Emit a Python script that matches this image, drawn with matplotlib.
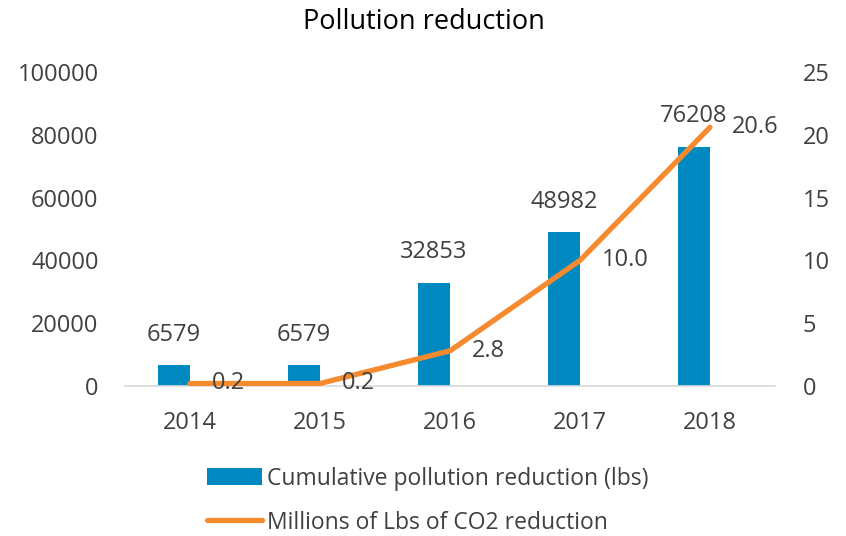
import matplotlib
matplotlib.use('Agg')
import matplotlib.pyplot as plt
import numpy as np

years = ['2014', '2015', '2016', '2017', '2018']
pollution_lbs = [6579, 6579, 32853, 48982, 76208]
co2_millions = [0.2, 0.2, 2.8, 10.0, 20.6]

BLUE = '#0089C1'
ORANGE = '#F58A2E'
TEXT = '#404040'
FS = 17

plt.rcParams['font.family'] = ['Open Sans', 'DejaVu Sans']
plt.rcParams['text.color'] = TEXT

fig = plt.figure(figsize=(8.46, 5.36), dpi=100)
W, H = 846, 536
ax = fig.add_axes([125 / W, 1 - 386 / H, 650 / W, 314 / H])
ax2 = ax.twinx()

x = np.arange(len(years))
bw = 0.245
bars = ax.bar(x - bw / 2, pollution_lbs, width=bw, color=BLUE, zorder=2,
              label='Cumulative pollution reduction (lbs)')
line, = ax2.plot(x, co2_millions, color=ORANGE, linewidth=3.8,
                 solid_capstyle='round', zorder=3,
                 label='Millions of Lbs of CO2 reduction')

ax.set_xlim(-0.5, len(years) - 0.5)
ax.set_ylim(0, 100000)
ax2.set_ylim(0, 25)
ax.set_yticks(range(0, 100001, 20000))
ax2.set_yticks(range(0, 26, 5))
ax.set_xticks(x)
ax.set_xticklabels(years)

for a in (ax, ax2):
    for s in a.spines.values():
        s.set_visible(False)
    a.tick_params(length=0, labelsize=FS, colors=TEXT)
ax.spines['bottom'].set_visible(True)
ax.spines['bottom'].set_color('#D9D9D9')
ax.spines['bottom'].set_linewidth(1.2)
ax.tick_params(axis='y', pad=19)
ax.tick_params(axis='x', pad=18)
ax2.tick_params(axis='y', pad=20)

# value labels
for xi, v in zip(x, pollution_lbs):
    ax.annotate(str(v), (xi - bw / 2, v), xytext=(0, 22), textcoords='offset points',
                ha='center', va='center', fontsize=FS, color=TEXT, zorder=5)
for xi, v in zip(x, co2_millions):
    ax2.annotate(f'{v:.1f}', (xi, v), xytext=(16, 0), textcoords='offset points',
                 ha='left', va='center', fontsize=FS, color=TEXT, zorder=5)

fig.text(424 / W, 1 - 22 / H, 'Pollution reduction', ha='center', va='center',
         fontsize=19.5, color='black')

fig.legend(handles=[bars, line], loc='upper left',
           bbox_to_anchor=(186 / W, 1 - 446 / H), frameon=False,
           fontsize=16.5, handlelength=2.4, handleheight=0.75,
           labelspacing=0.87, handletextpad=0.25)

fig.savefig('out.png', dpi=100)
